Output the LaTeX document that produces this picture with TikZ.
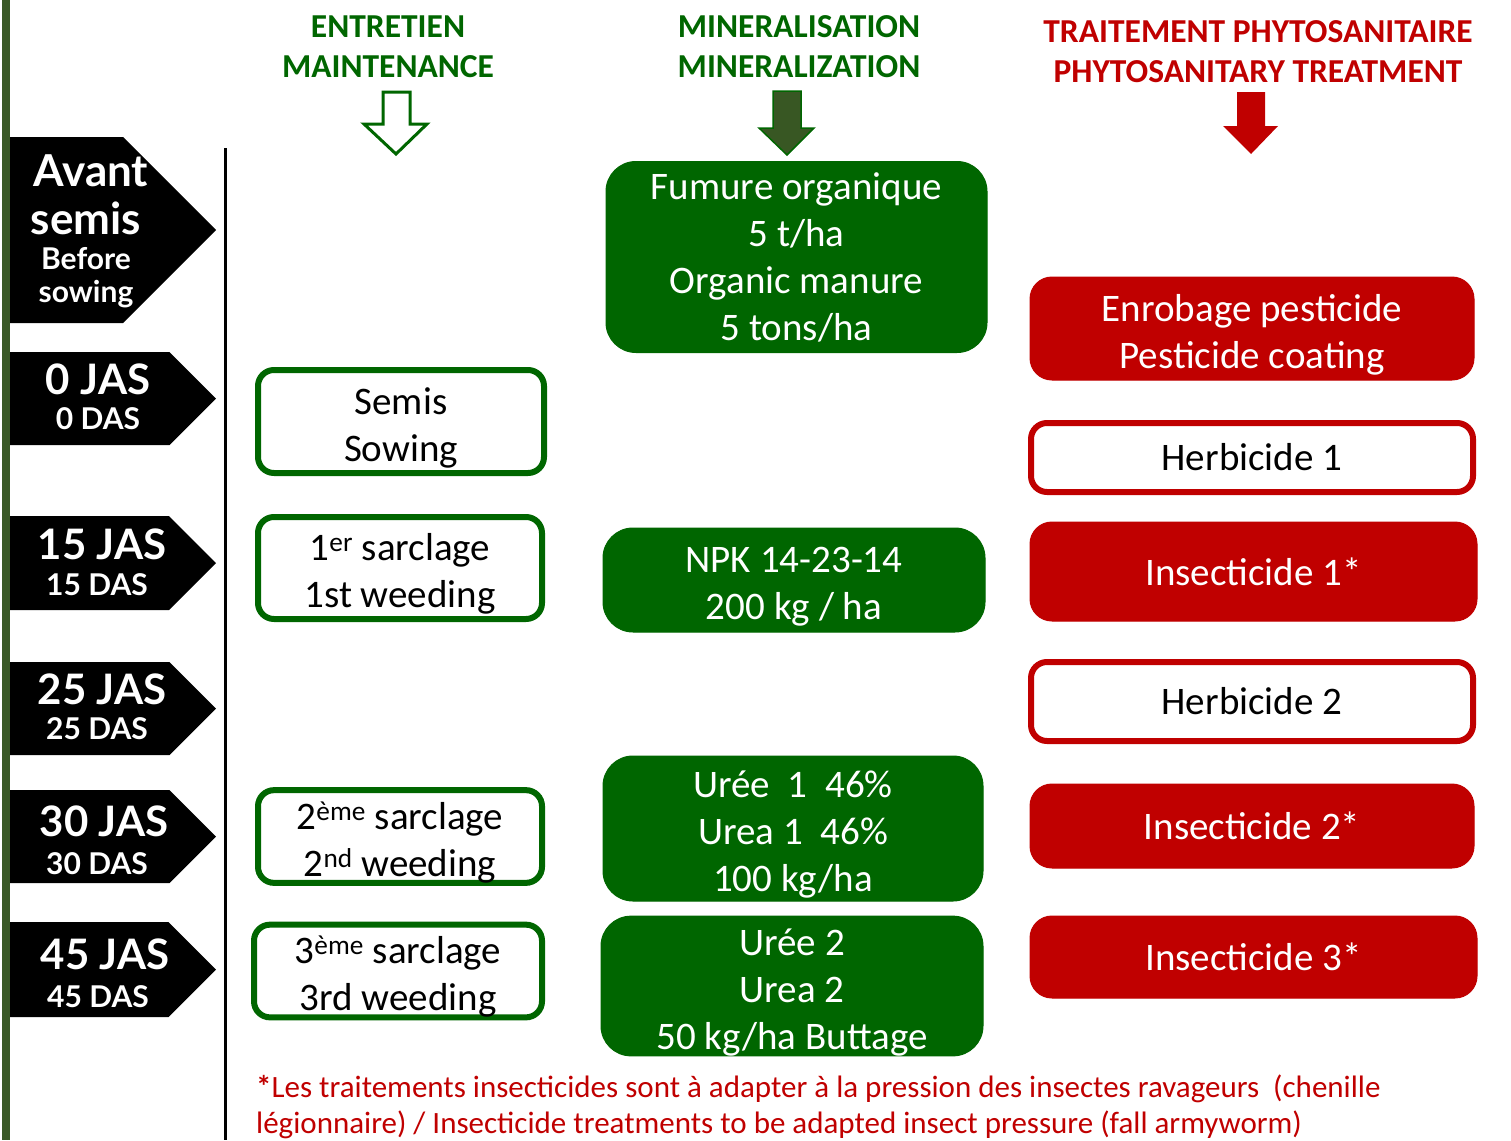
\documentclass[tikz,border=0pt]{standalone}
\usepackage{fontspec}
\setmainfont{Carlito}
\newfontfamily\labfont{Lato}
\definecolor{mgreen}{RGB}{0,102,0}
\definecolor{mred}{RGB}{192,0,0}
\definecolor{olive}{RGB}{56,87,35}
\definecolor{barg}{RGB}{59,90,39}
\newcommand\tops{\rule{0pt}{39pt}}
\tikzset{
  head/.style={font=\fontsize{33.5}{40}\selectfont\bfseries, align=center, inner sep=0pt},
  gbord/.style={draw=mgreen, line width=6pt, fill=white, rounded corners=16pt, inner sep=0pt, align=center, font=\fontsize{39}{47}\selectfont, text=black},
  gfill/.style={fill=mgreen, draw=mgreen, line width=1pt, rounded corners=30pt, inner sep=0pt, align=center, font=\fontsize{39}{47}\selectfont, text=white},
  rfill/.style={fill=mred, draw=mred, line width=1pt, rounded corners=22pt, inner sep=0pt, align=center, font=\fontsize{39}{47}\selectfont, text=white},
  rbord/.style={draw=mred, line width=6pt, fill=white, rounded corners=16pt, inner sep=0pt, align=center, font=\fontsize{39}{47}\selectfont, text=black},
  big/.style={text=white, inner sep=0pt, font=\labfont\bfseries\fontsize{42}{46}\selectfont},
  bigger/.style={text=white, inner sep=0pt, font=\labfont\bfseries\fontsize{44}{46}\selectfont},
  small/.style={text=white, inner sep=0pt, font=\labfont\bfseries\fontsize{30}{34}\selectfont},
}
\newcommand\pentmark[2]{%
  \pgfmathsetmacro\ph{(#2-#1)/2}%
  \pgfmathsetmacro\pr{216-\ph}%
  \pgfmathsetmacro\pm{(#1+#2)/2}%
  \fill[black] (10,#1) -- (\pr,#1) -- (216,\pm) -- (\pr,#2) -- (10,#2) -- cycle;}
\begin{document}
\begin{tikzpicture}[x=1pt,y=-1pt]
\useasboundingbox (0,0) rectangle (1511,1140);
% left bar and time line
\fill[barg] (2,0) rectangle (10,1140);
\coordinate (lt) at (225,148);
\coordinate (lb) at (225,1140);
\draw[black, line width=3pt] (lt) -- (lb);

% headers
\node[head, text=mgreen] (hm) at (388,46.5) {ENTRETIEN\\MAINTENANCE};
\node[head, text=mgreen] (hn) at (799,47) {MINERALISATION\\MINERALIZATION};
\node[head, text=mred] (hp) at (1258,52) {TRAITEMENT PHYTOSANITAIRE\\PHYTOSANITARY TREATMENT};

% header arrows
\draw[mgreen, line width=3pt, fill=white, line join=miter] (383,92) -- (410,92) -- (410,124) -- (427,124) -- (396,154) -- (364,124) -- (383,124) -- cycle;
\draw[mgreen, line width=1.5pt, fill=olive] (773,91) -- (801,91) -- (801,128) -- (814,128) -- (787,155) -- (759,128) -- (773,128) -- cycle;
\fill[mred] (1237,92) -- (1265,92) -- (1265,126) -- (1278,126) -- (1251,154) -- (1223,126) -- (1237,126) -- cycle;

% time markers
\pentmark{137}{323}
\node[bigger] (av1) at (91,171) {Avant};
\node[bigger] (av2) at (86,218) {semis};
\node[small] (av3) at (86,259) {Before};
\node[small] (av4) at (86,294) {sowing};
\pentmark{352}{445}
\node[big] (j0) at (98,379) {0 JAS};
\node[small] (d0) at (98,419) {0 DAS};
\pentmark{516}{610}
\node[big] (j15) at (102,544) {15 JAS};
\node[small] (d15) at (97,585) {15 DAS};
\pentmark{662}{755}
\node[big] (j25) at (102,689) {25 JAS};
\node[small] (d25) at (97,729) {25 DAS};
\pentmark{790}{883}
\node[big] (j30) at (104,821) {30 JAS};
\node[small] (d30) at (97,864) {30 DAS};
\pentmark{922}{1017}
\node[big] (j45) at (105,954) {45 JAS};
\node[small] (d45) at (98,997) {45 DAS};

% maintenance
\node[gbord, minimum width=286pt, minimum height=103pt] (semis) at (401,421.5) {\tops Semis\\Sowing};
\node[gbord, minimum width=284pt, minimum height=102pt] (s1) at (400,568) {\tops 1\textsuperscript{er} sarclage\\1st weeding};
\node[gbord, minimum width=284pt, minimum height=91pt] (s2) at (400,836.5) {\tops 2\textsuperscript{ème} sarclage\\2\textsuperscript{nd} weeding};
\node[gbord, minimum width=288pt, minimum height=92pt] (s3) at (398,971) {\tops 3\textsuperscript{ème} sarclage\\3rd weeding};

% mineralisation
\node[gfill, minimum width=381pt, minimum height=191pt] (fum) at (796.5,257) {Fumure organique\\5 t/ha\\Organic manure\\5 tons/ha};
\node[gfill, minimum width=382pt, minimum height=104pt] (npk) at (794,580) {\tops NPK 14-23-14\\200 kg / ha};
\node[gfill, minimum width=380pt, minimum height=145pt] (u1) at (793,828.5) {\tops Urée~~1~~46\%\\Urea 1~~46\%\\100 kg/ha};
\node[gfill, minimum width=382pt, minimum height=138pt] (u2) at (792,986) {\tops Urée 2\\Urea 2\\50 kg/ha Buttage};

% phytosanitary
\node[rfill, minimum width=444pt, minimum height=103pt] (enr) at (1252,328.5) {\tops Enrobage pesticide\\Pesticide coating};
\node[rbord, minimum width=442pt, minimum height=69pt] (h1) at (1252,457.5) {Herbicide 1};
\node[rfill, minimum width=447pt, minimum height=99pt] (i1) at (1253.5,571.5) {Insecticide 1*};
\node[rbord, minimum width=442pt, minimum height=79pt] (h2) at (1252,701.5) {Herbicide 2};
\node[rfill, minimum width=444pt, minimum height=84pt] (i2) at (1252,826) {Insecticide 2*};
\node[rfill, minimum width=447pt, minimum height=82pt] (i3) at (1253.5,957) {Insecticide 3*};

% footnote
\node[anchor=west, align=left, inner sep=0pt, text=mred, font=\fontsize{31}{36}\selectfont] (fn) at (256,1107) {\textbf{*}Les traitements insecticides sont à adapter à la pression des insectes ravageurs~~(chenille\\légionnaire) / Insecticide treatments to be adapted insect pressure (fall armyworm)};
\end{tikzpicture}
\end{document}
